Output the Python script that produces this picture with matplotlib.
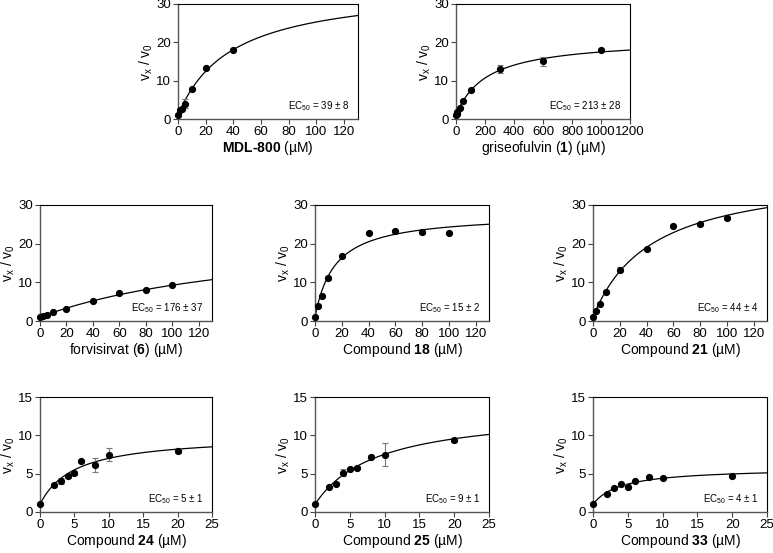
import numpy as np
import matplotlib
matplotlib.use('Agg')
import matplotlib.pyplot as plt

plt.rcParams['font.family'] = ['Liberation Sans', 'DejaVu Sans']
plt.rcParams['mathtext.fontset'] = 'custom'
plt.rcParams['mathtext.rm'] = 'Liberation Sans'
plt.rcParams['mathtext.bf'] = 'Liberation Sans:bold'
plt.rcParams['mathtext.it'] = 'Liberation Sans:italic'

# data
xlabels = [r'$\mathbf{MDL‐800}$ (µM)',
           r'griseofulvin ($\mathbf{1}$) (µM)',
           r'forvisirvat ($\mathbf{6}$) (µM)',
           r'Compound $\mathbf{18}$ (µM)',
           r'Compound $\mathbf{21}$ (µM)',
           r'Compound $\mathbf{24}$ (µM)',
           r'Compound $\mathbf{25}$ (µM)',
           r'Compound $\mathbf{33}$ (µM)']
ec50_text = ['39 ± 8', '213 ± 28', '176 ± 37', '15 ± 2', '44 ± 4', '5 ± 1', '9 ± 1', '4 ± 1']

x_mdl = [0, 1.5, 3, 5, 10, 20, 40]
y_mdl = [1.0, 2.4, 2.6, 4.0, 7.8, 13.3, 17.9]
e_mdl = [0, 0.2, 0.2, 1.2, 0.3, 0.3, 0.2]

x_gris = [0, 5, 10, 25, 50, 100, 300, 600, 1000]
y_gris = [1.0, 1.4, 1.9, 2.8, 4.6, 7.5, 13.0, 15.1, 17.9]
e_gris = [0, 0.1, 0.1, 0.2, 0.2, 0.3, 1.0, 1.2, 0.4]

x_forv = [0, 2, 5, 10, 20, 40, 60, 80, 100]
y_forv = [1.0, 1.2, 1.5, 2.2, 3.1, 5.2, 7.2, 8.0, 9.2]
e_forv = [0, 0.1, 0.1, 0.1, 0.2, 0.2, 0.3, 0.2, 0.2]

x_c18 = [0, 2, 5, 10, 20, 40, 60, 80, 100]
y_c18 = [1.0, 3.8, 6.5, 11.2, 16.8, 22.8, 23.2, 22.9, 22.8]
e_c18 = [0, 0.3, 0.2, 0.5, 0.2, 0.2, 0.2, 0.5, 0.2]

x_c21 = [0, 2, 5, 10, 20, 40, 60, 80, 100]
y_c21 = [1.0, 2.6, 4.3, 7.4, 13.3, 18.6, 24.6, 25.0, 26.7]
e_c21 = [0, 0.3, 0.2, 0.3, 0.6, 0.3, 0.3, 0.4, 0.3]

x_c24 = [0, 2, 3, 4, 5, 6, 8, 10, 20]
y_c24 = [1.0, 3.5, 4.0, 4.7, 5.1, 6.6, 6.1, 7.5, 8.0]
e_c24 = [0, 0.1, 0.4, 0.2, 0.3, 0.2, 0.9, 0.9, 0.3]

x_c25 = [0, 2, 3, 4, 5, 6, 8, 10, 20]
y_c25 = [1.0, 3.2, 3.7, 5.15, 5.6, 5.8, 7.2, 7.5, 9.4]
e_c25 = [0, 0.1, 0.2, 0.4, 0.1, 0.2, 0.2, 1.45, 0.3]

x_c33 = [0, 2, 3, 4, 5, 6, 8, 10, 20]
y_c33 = [1.0, 2.4, 3.1, 3.6, 3.3, 4.1, 4.6, 4.45, 4.7]
e_c33 = [0, 0.2, 0.1, 0.1, 0.35, 0.1, 0.1, 0.1, 0.1]

# fit parameters (EC50, Emax) for the hyperbolic curves
ec50 = [39, 213, 176, 15, 44, 5, 9, 4]
emax = [34.8, 21.0, 23.8, 27.8, 38.9, 10.0, 13.4, 5.76]

xs = [x_mdl, x_gris, x_forv, x_c18, x_c21, x_c24, x_c25, x_c33]
ys = [y_mdl, y_gris, y_forv, y_c18, y_c21, y_c24, y_c25, y_c33]
es = [e_mdl, e_gris, e_forv, e_c18, e_c21, e_c24, e_c25, e_c33]

xmax = [130, 1200, 130, 130, 130, 25, 25, 25]
xstep = [20, 200, 20, 20, 20, 5, 5, 5]
ymax = [30, 30, 30, 30, 30, 15, 15, 15]
ystep = [10, 10, 10, 10, 10, 5, 5, 5]

W, H = 773, 553
# axes boxes in pixels: left, top, right, bottom
boxes = [(178, 4, 358, 119),
         (456, 4, 630, 119),
         (40, 205, 212, 321),
         (315, 205, 489, 321),
         (593, 205, 767, 321),
         (40, 397, 212, 512),
         (315, 397, 489, 512),
         (593, 397, 767, 512)]

fig = plt.figure(figsize=(W / 100, H / 100), dpi=100)

for i in range(8):
    l, t, r, b = boxes[i]
    ax = fig.add_axes([l / W, 1 - b / H, (r - l) / W, (b - t) / H])
    xc = np.linspace(0, xmax[i], 300)
    yc = 1 + (emax[i] - 1) * xc / (ec50[i] + xc)
    ax.plot(xc, yc, color='black', lw=0.9, clip_on=False)
    ax.errorbar(xs[i], ys[i], yerr=es[i], fmt='none', ecolor='#777777',
                elinewidth=0.8, capsize=2, capthick=0.8, clip_on=False)
    ax.plot(xs[i], ys[i], 'o', color='black', ms=4.2, clip_on=False, zorder=5)
    ax.set_xlim(0, xmax[i])
    ax.set_ylim(0, ymax[i])
    ax.set_xticks(np.arange(0, xmax[i] + 0.1, xstep[i]))
    ax.set_yticks(np.arange(0, ymax[i] + 0.1, ystep[i]))
    ax.tick_params(labelsize=9.5, length=3.5, width=0.8, pad=1.5, color='#444444')
    for s in ['left', 'bottom']:
        ax.spines[s].set_color('#555555')
        ax.spines[s].set_linewidth(1.0)
    for s in ['top', 'right']:
        ax.spines[s].set_color('black')
        ax.spines[s].set_linewidth(0.8)
    ax.set_xlabel(xlabels[i], fontsize=10, labelpad=1)
    ax.set_ylabel(r'$\mathrm{v_x}$ / $\mathrm{v_0}$', fontsize=10, labelpad=0.5)
    ax.text(0.95, 0.05, r'EC$_{50}$ = ' + ec50_text[i], transform=ax.transAxes,
            ha='right', va='bottom', fontsize=7)

fig.savefig('out.png', dpi=100)
